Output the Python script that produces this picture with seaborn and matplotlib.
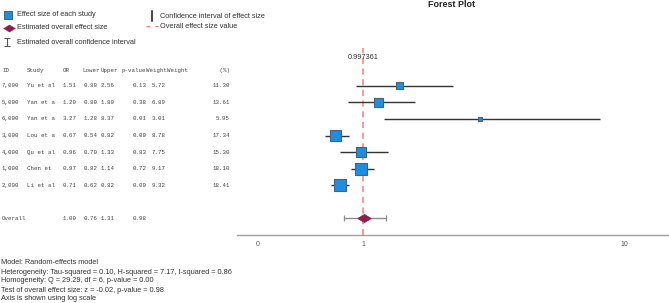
import numpy as np
import pandas as pd
import matplotlib
matplotlib.use("Agg")
import matplotlib.pyplot as plt
import matplotlib.transforms as mtransforms
from matplotlib.ticker import NullLocator
import seaborn as sns

# tabla del meta-análisis
ids = ["7,000", "5,000", "6,000", "3,000", "4,000", "1,000", "2,000"]
studies = ["Yu et al", "Yan et a", "Yan et a", "Lou et a", "Qu et al", "Chen et", "Li et al"]
odds = [1.51, 1.20, 3.27, 0.67, 0.96, 0.97, 0.71]
lower = [0.89, 0.80, 1.28, 0.54, 0.70, 0.82, 0.62]
upper = [2.56, 1.80, 8.37, 0.82, 1.33, 1.14, 0.82]
pvals = [0.13, 0.38, 0.01, 0.00, 0.83, 0.72, 0.00]
weights = [5.72, 6.89, 3.01, 8.78, 7.75, 9.17, 9.32]
weight_pct = [11.30, 13.61, 5.95, 17.34, 15.30, 18.10, 18.41]
overall = [1.00, 0.76, 1.31, 0.98]

# posiciones dibujadas (escala log)
plot_est = [1.37, 1.14, 2.80, 0.78, 0.98, 0.98, 0.81]
plot_lo = [0.93, 0.87, 1.20, 0.71, 0.81, 0.89, 0.75]
plot_hi = [2.20, 1.58, 8.11, 0.88, 1.24, 1.10, 0.88]
overall_plot = [1.00, 0.84, 1.22]
overall_es = 0.997361

notes = [
    "Model: Random-effects model",
    "Heterogeneity: Tau-squared = 0.10, H-squared = 7.17, I-squared = 0.86",
    "Homogeneity: Q = 29.29, df = 6, p-value = 0.00",
    "Test of overall effect size: z = -0.02, p-value = 0.98",
    "Axis is shown using log scale",
]

sns.set_style("white")
plt.rcParams["font.family"] = ["Liberation Sans", "DejaVu Sans"]

W, H = 669, 303
fig = plt.figure(figsize=(W / 100, H / 100), dpi=100)

# capa en pixeles para leyenda y textos
lay = fig.add_axes([0, 0, 1, 1])
lay.set_xlim(0, W)
lay.set_ylim(H, 0)
lay.axis("off")

ax = fig.add_axes([237 / W, 1 - 235 / H, 1 - 237 / W, (235 - 48) / H])
ax.set_facecolor("none")

rows = np.arange(len(studies))
overall_row = 8
df = pd.DataFrame({"est": plot_est, "row": rows, "w": weight_pct})

ax.axvline(overall_es, color="#f08080", ls=(0, (4, 3)), lw=1.1, zorder=1)
ax.hlines(rows, plot_lo, plot_hi, color="#333333", lw=1.0, zorder=2)
sns.scatterplot(data=df, x="est", y="row", size="w",
                sizes={w: ((0.72 * w - 1) * 0.72) ** 2 for w in weight_pct},
                marker="s", color="#1b8fe2", edgecolor="#46637a", linewidth=0.8,
                legend=False, ax=ax, zorder=3)

ax.errorbar([overall_plot[0]], [overall_row],
            xerr=[[overall_plot[0] - overall_plot[1]], [overall_plot[2] - overall_plot[0]]],
            fmt="none", ecolor="#8c8c8c", elinewidth=1.0, capsize=2.2, capthick=0.9, zorder=2)
diamond = [(-1, 0), (0, 0.6), (1, 0), (0, -0.6), (-1, 0)]
sns.scatterplot(x=[overall_plot[0]], y=[overall_row], marker=diamond, s=95,
                color="#911b4c", edgecolor="#911b4c", linewidth=0.5, ax=ax, zorder=4)

ax.text(overall_es, -1.7, f"{overall_es}", ha="center", va="center",
        fontsize=5.3, color="#333333", zorder=5)

ax.set_xscale("log")
ax.set_xlim(0.326, 14.89)
ax.set_ylim(9, -2.28)
ax.xaxis.set_minor_locator(NullLocator())
ax.set_xticks([0.39, 1, 10])
ax.set_xticklabels(["0", "1", "10"])
ax.tick_params(axis="x", length=0, labelsize=5, labelcolor="#555555", pad=4)
ax.set_yticks([])
ax.set_xlabel("")
ax.set_ylabel("")
for side in ["top", "left", "right"]:
    ax.spines[side].set_visible(False)
ax.spines["bottom"].set_color("#a0a0a0")
ax.spines["bottom"].set_linewidth(1.0)

# tabla de texto a la izquierda
trans = mtransforms.blended_transform_factory(fig.transFigure, ax.transData)
mono = dict(family="Liberation Mono", fontsize=4.15, color="#444444", va="center", transform=trans)
header_row = -0.95
ax.text(2 / W, header_row, "ID", ha="left", **mono)
ax.text(27 / W, header_row, "Study", ha="left", **mono)
ax.text(63 / W, header_row, "OR", ha="left", **mono)
ax.text(82 / W, header_row, "Lower", ha="left", **mono)
ax.text(101 / W, header_row, "Upper", ha="left", **mono)
ax.text(122 / W, header_row, "p-value", ha="left", **mono)
ax.text(146 / W, header_row, "Weight", ha="left", **mono)
ax.text(230 / W, header_row, "Weight         (%)", ha="right", **mono)

for i in range(len(studies)):
    ax.text(2 / W, rows[i], ids[i], ha="left", **mono)
    ax.text(27 / W, rows[i], studies[i], ha="left", **mono)
    ax.text(63 / W, rows[i], f"{odds[i]:.2f}", ha="left", **mono)
    ax.text(84 / W, rows[i], f"{lower[i]:.2f}", ha="left", **mono)
    ax.text(101 / W, rows[i], f"{upper[i]:.2f}", ha="left", **mono)
    ax.text(147 / W, rows[i], f"{pvals[i]:.2f}", ha="right", **mono)
    ax.text(166 / W, rows[i], f"{weights[i]:.2f}", ha="right", **mono)
    ax.text(230 / W, rows[i], f"{weight_pct[i]:.2f}", ha="right", **mono)

ax.text(2 / W, overall_row, "Overall", ha="left", **mono)
ax.text(63 / W, overall_row, f"{overall[0]:.2f}", ha="left", **mono)
ax.text(84 / W, overall_row, f"{overall[1]:.2f}", ha="left", **mono)
ax.text(101 / W, overall_row, f"{overall[2]:.2f}", ha="left", **mono)
ax.text(147 / W, overall_row, f"{overall[3]:.2f}", ha="right", **mono)

# leyenda
lab = dict(fontsize=5.3, color="#333333", va="center", ha="left")
lay.plot([8], [15], marker="s", ms=5.5, mfc="#1b8fe2", mec="#46637a", mew=0.7)
lay.text(17, 15, "Effect size of each study", **lab)
lay.plot([9], [27.5], marker=diamond, ms=8.5, mfc="#911b4c", mec="#911b4c", mew=0.3)
lay.text(17, 27.5, "Estimated overall effect size", **lab)
lay.errorbar([7], [42], yerr=[4], fmt="none", ecolor="#555555", elinewidth=0.8, capsize=2, capthick=0.8)
lay.text(17, 42, "Estimated overall confidence interval", **lab)
lay.plot([152, 152], [11, 21], color="#444444", lw=1.4)
lay.text(160, 16.5, "Confidence interval of effect size", **lab)
lay.plot([146, 158], [26, 26], color="#f08080", lw=0.9, ls=(0, (3, 4)))
lay.text(160, 26, "Overall effect size value", **lab)

lay.text(452, 4.5, "Forest Plot", fontsize=6.4, fontweight="bold", color="#222222",
         ha="center", va="center")

for k, line in enumerate(notes):
    lay.text(1, 263 + 9 * k, line, **lab)

fig.savefig("out.png", dpi=100)
